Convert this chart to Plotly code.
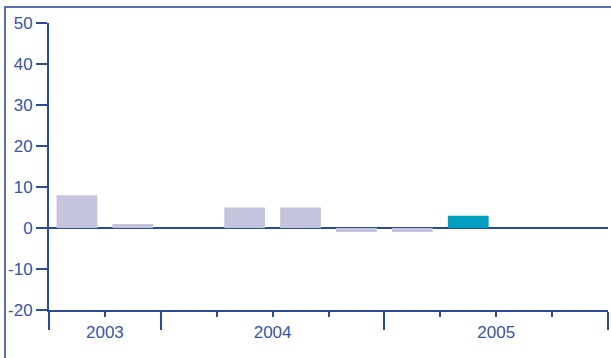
import plotly.graph_objects as go

# Quarterly values (2003 Q3 .. 2005 Q4)
quarters = ["2003Q3", "2003Q4", "2004Q1", "2004Q2", "2004Q3", "2004Q4",
            "2005Q1", "2005Q2", "2005Q3", "2005Q4"]
values = [8, 1, 0, 5, 5, -1, -1, 3, 0, 0]
highlight = [False, False, False, False, False, False, False, True, False, False]
years = ["2003", "2004", "2005"]
year_centers = [1, 4, 8]        # centre of each year's span, in quarter units
year_bounds = [0, 2, 6, 10]     # boundaries between years
y_ticks = [-20, -10, 0, 10, 20, 30, 40, 50]
y_ticktext = ["-20", "-10", "0", "10", "20", "30", "40", "50"]

W, H = 611, 358
L, R, T, B = 49, 3, 23, 48
pw, ph = W - L - R, H - T - B

AXIS = "#2c4a9a"
TEXT = "#3a539f"
BAR = "#c4c5dc"
TEAL = "#009fbf"
FRAME = "#5b6fb2"

xs = [i + 0.5 for i in range(len(values))]
colors = [TEAL if h else BAR for h in highlight]

fig = go.Figure()
fig.add_trace(go.Bar(x=xs, y=values, marker=dict(color=colors, line=dict(width=0)),
                     width=0.73, hoverinfo="skip", showlegend=False))
# invisible trace for the year-label axis
fig.add_trace(go.Scatter(x=[0, 10], y=[0, 0], xaxis="x2", mode="none",
                         showlegend=False, hoverinfo="skip"))

font = dict(family="Liberation Sans, Arial, sans-serif", size=17, color=TEXT)

fig.update_layout(
    width=W, height=H,
    margin=dict(l=L, r=R, t=T, b=B, pad=0),
    paper_bgcolor="white", plot_bgcolor="white",
    font=font,
    xaxis=dict(range=[0, 10], showgrid=False, zeroline=False,
               showline=True, linecolor=AXIS, linewidth=2,
               tickmode="array", tickvals=year_bounds, showticklabels=False,
               ticks="outside", ticklen=18, tickwidth=2, tickcolor=AXIS,
               minor=dict(tickmode="array", tickvals=list(range(0, 11)),
                          ticks="outside", ticklen=5, tickwidth=2, tickcolor=AXIS,
                          showgrid=False),
               fixedrange=True),
    xaxis2=dict(range=[0, 10], overlaying="x", anchor="y", side="bottom",
                showgrid=False, zeroline=False, showline=False,
                tickmode="array", tickvals=year_centers, ticktext=years,
                ticks="outside", ticklen=7, tickcolor="rgba(0,0,0,0)",
                tickfont=font),
    yaxis=dict(range=[-20, 50], showgrid=False,
               zeroline=True, zerolinecolor=AXIS, zerolinewidth=2,
               showline=True, linecolor=AXIS, linewidth=2,
               tickmode="array", tickvals=y_ticks, ticktext=y_ticktext,
               ticks="outside", ticklen=11, tickwidth=2, tickcolor=AXIS,
               tickfont=font, fixedrange=True),
    bargap=0.27,
)

def px_x(p):
    return (p - L) / pw

def px_y(p):
    return (H - B - p) / ph

# frame around the chart (left and top edges)
fig.add_shape(type="line", xref="paper", yref="paper",
              x0=px_x(5), x1=px_x(5), y0=px_y(7), y1=px_y(H + 2),
              line=dict(color=FRAME, width=2))
fig.add_shape(type="line", xref="paper", yref="paper",
              x0=px_x(4), x1=px_x(W + 2), y0=px_y(7), y1=px_y(7),
              line=dict(color=FRAME, width=2))

fig.write_html(
    "out.html",
    config={"displayModeBar": False},
    post_script="document.body.style.margin='0';document.body.style.overflow='hidden';",
)
